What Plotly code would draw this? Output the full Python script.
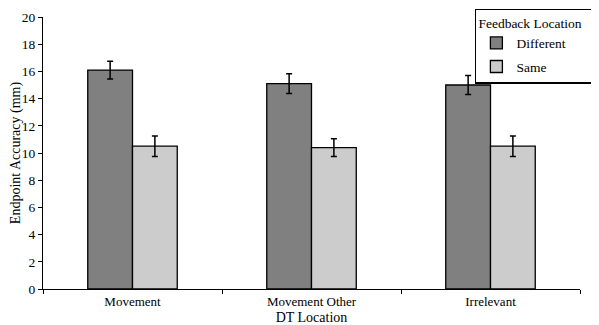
import plotly.graph_objects as go

categories = ["Movement", "Movement Other", "Irrelevant"]
different = [16.1, 15.1, 15.0]
different_err = [0.65, 0.73, 0.7]
same = [10.5, 10.4, 10.5]
same_err = [0.75, 0.65, 0.75]

font = "Liberation Serif"

# page body has an 8px margin, so the figure is sized to fit the 599x325 window
fig = go.Figure()
fig.add_trace(go.Bar(
    x=categories, y=different, name="Different", legendgroup="a",
    marker=dict(color="#808080", line=dict(color="black", width=1.3)),
    error_y=dict(type="data", array=different_err, color="black", thickness=1.5, width=3),
))
fig.add_trace(go.Bar(
    x=categories, y=same, name="Same", legendgroup="b",
    marker=dict(color="#cccccc", line=dict(color="black", width=1.3)),
    error_y=dict(type="data", array=same_err, color="black", thickness=1.5, width=3),
))

fig.update_layout(
    width=591, height=317,
    margin=dict(l=35, r=19, t=9, b=36, autoexpand=False),
    paper_bgcolor="white", plot_bgcolor="white",
    barmode="group", bargap=0.5, bargroupgap=0,
    font=dict(family=font, size=13, color="black"),
    showlegend=True,
    legend=dict(
        title=dict(text="Feedback Location\u00a0\u00a0\u00a0", font=dict(size=13.5)),
        xref="container", yref="container",
        x=0.79, xanchor="left", y=0.998, yanchor="top",
        bordercolor="black", borderwidth=1.5, bgcolor="white",
        tracegroupgap=3, font=dict(size=13.5),
    ),
    xaxis=dict(
        automargin=False,
        showline=True, linecolor="black", linewidth=1,
        ticks="outside", tickson="boundaries", ticklen=4, tickcolor="black",
        tickfont=dict(size=13),
        title=dict(text="DT Location", font=dict(size=14), standoff=4),
    ),
    yaxis=dict(
        automargin=False,
        range=[0, 20], dtick=2, showgrid=False, zeroline=False,
        showline=True, linecolor="black", linewidth=1,
        ticks="outside", ticklen=4, tickcolor="black",
        tickfont=dict(size=13.5),
        title=dict(text="Endpoint Accuracy (mm)", font=dict(size=14), standoff=4),
    ),
)

fig.write_html("out.html")
